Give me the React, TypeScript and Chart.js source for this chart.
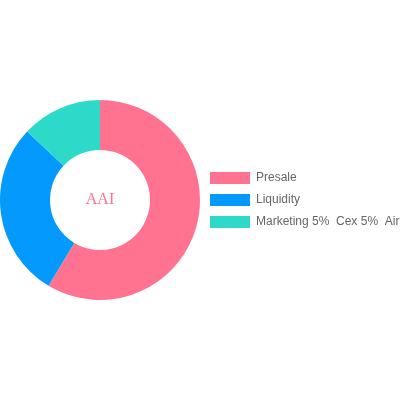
import React, { useEffect, useRef } from "react";
import { Chart, registerables } from "chart.js";

Chart.register(...registerables);

const categories = ["Presale", "Liquidity", "Marketing 5%  Cex 5%  Airdrop 3%"];
const values = [58.6, 28.4, 13];
const colors = ["#ff7391", "#0399fd", "#2dd9c9"];
const centerLabel = "AAI";

const centerText = {
  id: "centerText",
  afterDraw(chart: any) {
    const meta = chart.getDatasetMeta(0);
    if (!meta.data.length) return;
    const arc = meta.data[0];
    const ctx = chart.ctx;
    ctx.save();
    ctx.font = "16px 'Liberation Serif', 'Times New Roman', serif";
    ctx.fillStyle = "#ff7391";
    ctx.textAlign = "center";
    ctx.textBaseline = "middle";
    ctx.fillText(centerLabel, arc.x, arc.y);
    ctx.restore();
  },
};

export default function App() {
  const ref = useRef<HTMLCanvasElement>(null);
  useEffect(() => {
    if (!ref.current) return;
    const chart = new Chart(ref.current, {
      type: "doughnut",
      data: {
        labels: categories,
        datasets: [
          {
            data: values,
            backgroundColor: colors,
            borderWidth: 0,
          },
        ],
      },
      options: {
        animation: false,
        responsive: false,
        cutout: "50%",
        plugins: {
          legend: {
            position: "right",
            labels: {
              boxWidth: 40,
              color: "#666",
              font: { size: 12, family: "'Liberation Sans', Arial, sans-serif" },
            },
          },
          tooltip: { enabled: false },
        },
      },
      plugins: [centerText],
    });
    return () => chart.destroy();
  }, []);
  return (
    <div style={{ position: "absolute", left: 0, top: 0, width: 400, height: 400 }}>
      <canvas ref={ref} width={400} height={400} style={{ width: 400, height: 400 }} />
    </div>
  );
}
